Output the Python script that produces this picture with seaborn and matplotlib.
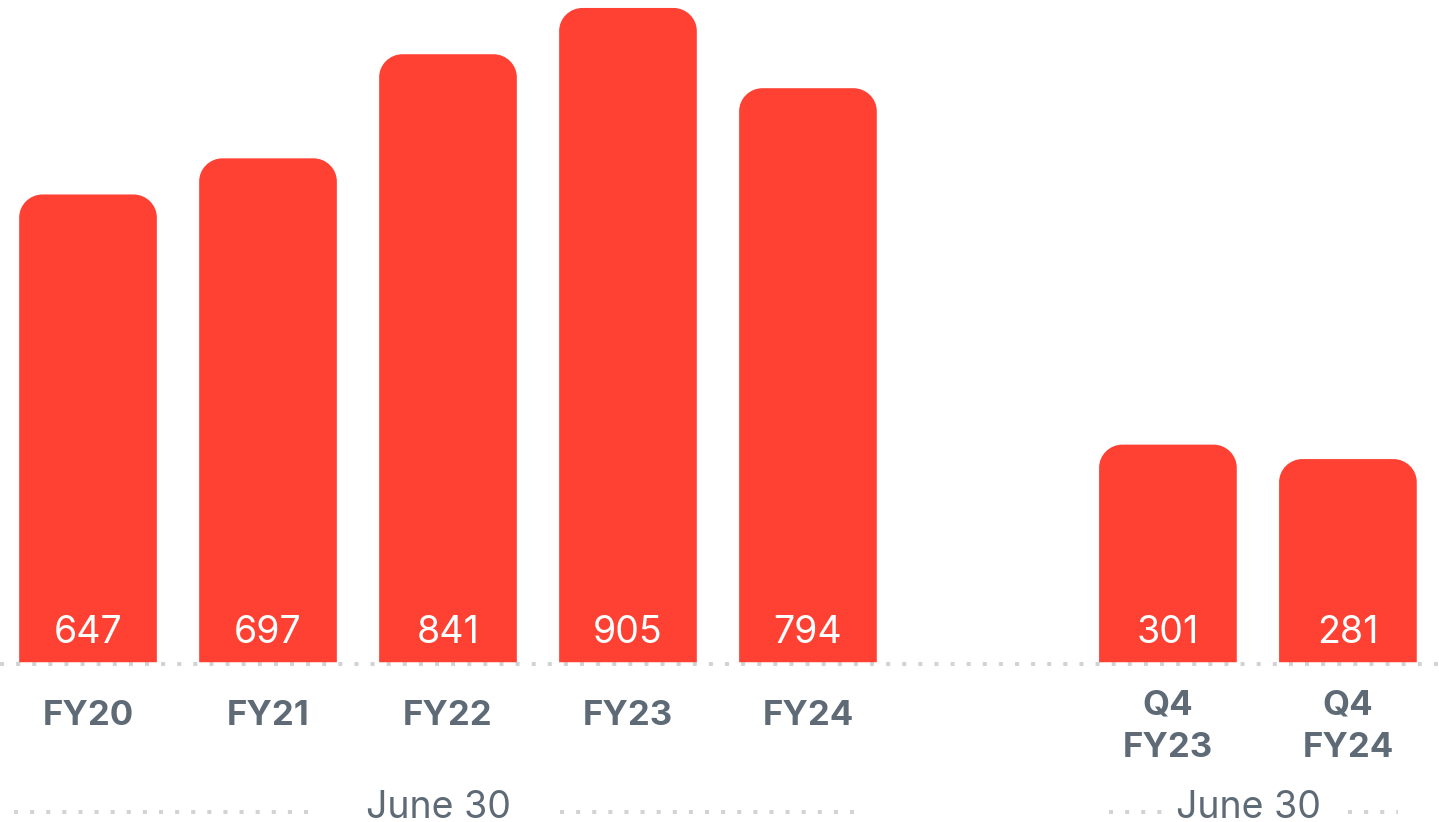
import matplotlib
matplotlib.use("Agg")
import matplotlib.pyplot as plt
import seaborn as sns
import pandas as pd
import numpy as np
from matplotlib.path import Path
from matplotlib.patches import PathPatch

# ---- data ----
categories = ["FY20", "FY21", "FY22", "FY23", "FY24", "Q4\nFY23", "Q4\nFY24"]
values = [647, 697, 841, 905, 794, 301, 281]
positions = [0, 1, 2, 3, 4, 6, 7]
group_labels = ["June 30", "June 30"]

RED = "#FF4133"
GREY = "#5E6A75"
DOT = "#D0D4D7"

sns.set_theme(style="white")
plt.rcParams['font.family'] = ['Inter', 'DejaVu Sans']

df = pd.DataFrame({"pos": positions, "value": values, "cat": categories})

fig = plt.figure(figsize=(14.39, 8.22), dpi=100)
ax = fig.add_axes([0, 0, 1, 1])
sns.barplot(data=df, x="pos", y="value", native_scale=True, width=0.765,
            color=RED, saturation=1, ax=ax, zorder=3)

ax.set_xlim(-0.489, 7.506)
ax.set_ylim(-221, 916)
ax.axis("off")

# rounded top corners
rx, ry = 0.13, 32.0
K = 0.5523
for p in list(ax.patches):
    x0, y0 = p.get_x(), p.get_y()
    w, h = p.get_width(), p.get_height()
    x1, y1 = x0 + w, y0 + h
    verts = [
        (x0, y0), (x0, y1 - ry),
        (x0, y1 - ry + K * ry), (x0 + rx - K * rx, y1), (x0 + rx, y1),
        (x1 - rx, y1),
        (x1 - rx + K * rx, y1), (x1, y1 - ry + K * ry), (x1, y1 - ry),
        (x1, y0), (x0, y0)
    ]
    codes = [Path.MOVETO, Path.LINETO,
             Path.CURVE4, Path.CURVE4, Path.CURVE4,
             Path.LINETO,
             Path.CURVE4, Path.CURVE4, Path.CURVE4,
             Path.LINETO, Path.CLOSEPOLY]
    pp = PathPatch(Path(verts, codes), facecolor=RED, edgecolor="none", zorder=3)
    p.remove()
    ax.add_patch(pp)

# baseline dotted line
ax.plot([-0.489, 7.506], [-3, -3], color=DOT, lw=2.9,
        linestyle=(0, (1, 3)), solid_capstyle="butt", dash_capstyle="butt", zorder=2)

# labels
for x, v, c in zip(positions, values, categories):
    ax.text(x, 41, f"{v}", color="white", ha="center", va="center",
            fontsize=27, fontweight="normal", zorder=4)
    if "\n" in c:
        ax.text(x, -89, c, color=GREY, ha="center", va="center",
                fontsize=25, fontweight="bold", linespacing=1.42)
    else:
        ax.text(x, -75, c, color=GREY, ha="center", va="center",
                fontsize=25, fontweight="bold")

# group brackets
groups = [
    (2.0, [(-0.41, 1.29), (2.62, 4.3)]),
    (6.5, [(5.67, 6.02), (7.0, 7.28)]),
]
for (cx, segs), lab in zip(groups, group_labels):
    ax.text(cx - 0.055, -202, lab, color=GREY, ha="center", va="center",
            fontsize=27, fontweight="normal")
    for a, b in segs:
        ax.plot([a, b], [-207, -207], color=DOT, lw=2.9,
                linestyle=(0, (1, 3)), dash_capstyle="butt")

fig.savefig("out.png", dpi=100)
